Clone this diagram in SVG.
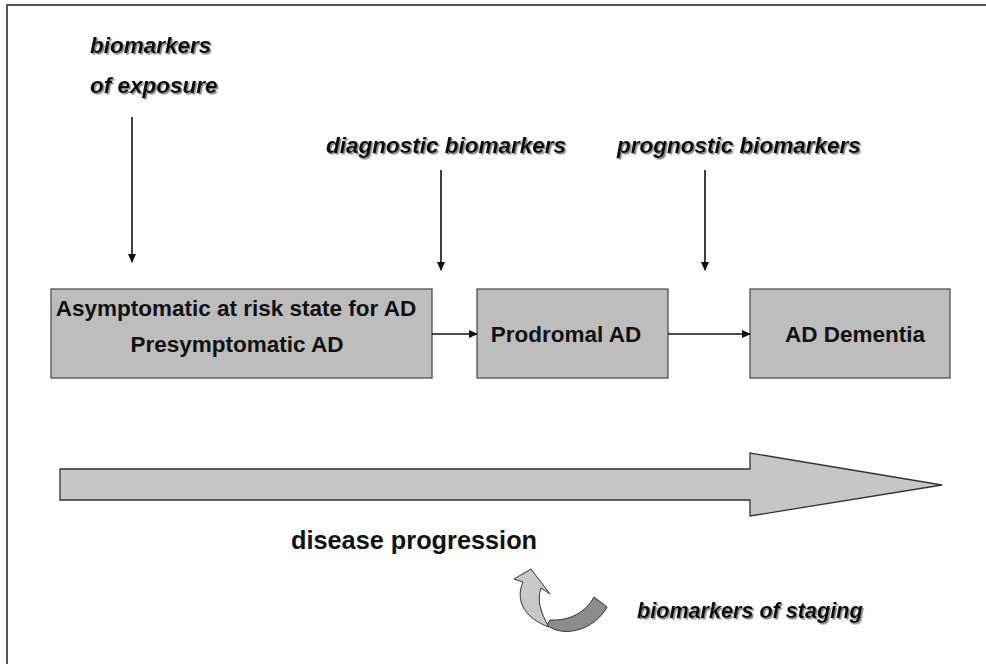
<svg xmlns="http://www.w3.org/2000/svg" width="986" height="664" viewBox="0 0 986 664">
<style>
.lbl{font-family:"Liberation Sans",Arial,sans-serif;font-weight:bold;font-style:italic;font-size:22.5px;fill:#111;filter:url(#sh)}
.bx{fill:#bdbdbd;stroke:#444;stroke-width:1.2}
.bt{font-family:"Liberation Sans",Arial,sans-serif;font-weight:bold;font-size:22.5px;fill:#111;text-anchor:middle}
.ln{stroke:#111;stroke-width:1.6;fill:none;marker-end:url(#ah)}
</style>
<defs>
<marker id="ah" markerWidth="10" markerHeight="10" refX="8" refY="4" orient="auto" markerUnits="userSpaceOnUse"><path d="M0,0 L9,4 L0,8 Z" fill="#111"/></marker>
<filter id="sh" x="-5%" y="-20%" width="110%" height="150%"><feDropShadow dx="1.5" dy="1.5" stdDeviation="0.7" flood-color="#777" flood-opacity="0.9"/></filter>
</defs>
<rect x="0" y="0" width="986" height="664" fill="#fff"/>
<path d="M7,664 L7,5 L986,5" fill="none" stroke="#555" stroke-width="2"/>
<g id="exposure"><text class="lbl" x="90" y="53">biomarkers</text><text class="lbl" x="90" y="93">of exposure</text></g>
<g id="diagnostic"><text class="lbl" x="326" y="153">diagnostic biomarkers</text></g>
<g id="prognostic"><text class="lbl" x="617" y="153">prognostic biomarkers</text></g>
<g id="asym"><rect class="bx" x="51" y="289" width="381" height="89"/><text class="bt" x="236" y="316">Asymptomatic at risk state for AD</text><text class="bt" x="237" y="352">Presymptomatic AD</text></g>
<g id="prodromal"><rect class="bx" x="477" y="289" width="191" height="89"/><text class="bt" x="566" y="342">Prodromal AD</text></g>
<g id="dementia"><rect class="bx" x="750" y="289" width="200" height="89"/><text class="bt" x="855" y="342">AD Dementia</text></g>
<g id="progression"><path d="M60,469 L750,469 L750,453 L942,485 L750,516 L750,500 L60,500 Z" fill="#c6c6c6" stroke="#333" stroke-width="1.3"/><text x="291" y="549" font-family="Liberation Sans,Arial,sans-serif" font-weight="bold" font-size="25.3" fill="#111">disease progression</text></g>
<g id="staging"><path d="M547,625 C562,638 594,631 607,607 L594,597 C586,612 570,621 550,620 Z" fill="#8c8c8c" stroke="#333" stroke-width="1"/><path d="M531,569 L514,579 L523,582 C515,600 524,618 549,627 C540,612 537,600 541,588 L550,594 Z" fill="#c8c8c8" stroke="#333" stroke-width="1"/><text class="lbl" x="637" y="618" style="font-size:21.6px">biomarkers of staging</text></g>
<g id="connectors">
<line class="ln" x1="132" y1="117" x2="132" y2="262"/>
<line class="ln" x1="441" y1="170" x2="441" y2="270"/>
<line class="ln" x1="705" y1="170" x2="705" y2="270"/>
<line class="ln" x1="432" y1="334" x2="477" y2="334"/>
<line class="ln" x1="668" y1="334" x2="750" y2="334"/>
</g>
</svg>
